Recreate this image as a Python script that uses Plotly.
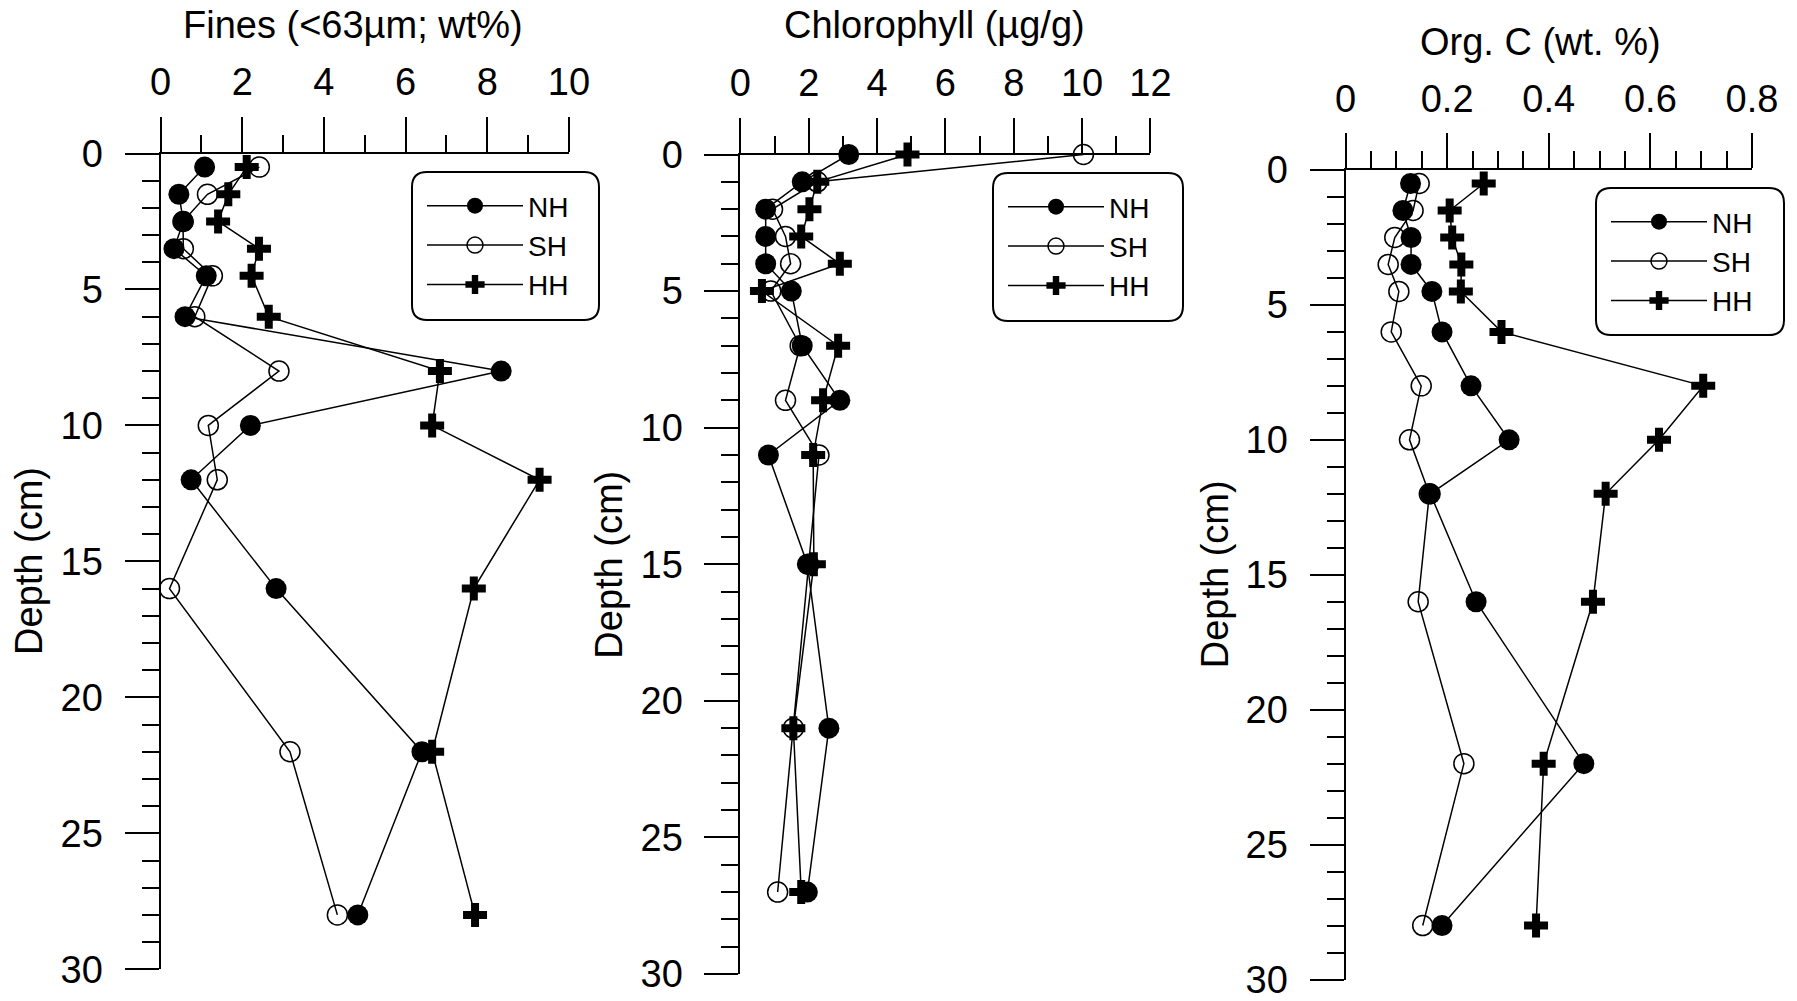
import plotly.graph_objects as go

W, H = 1797, 1001
FONT = "Arial, 'Liberation Sans', sans-serif"

# ---------------- data ----------------
fines_depth = [0.5, 1.5, 2.5, 3.5, 4.5, 6, 8, 10, 12, 16, 22, 28]
fines_NH = [1.08, 0.45, 0.56, 0.33, 1.12, 0.60, 8.34, 2.20, 0.75, 2.83, 6.40, 4.83]
fines_SH = [2.42, 1.15, 0.55, 0.56, 1.27, 0.84, 2.90, 1.17, 1.39, 0.22, 3.17, 4.33]
fines_HH = [2.11, 1.66, 1.41, 2.41, 2.23, 2.65, 6.84, 6.65, 9.28, 7.67, 6.65, 7.70]

chl_depth = [0, 1, 2, 3, 4, 5, 7, 9, 11, 15, 21, 27]
chl_NH = [3.17, 1.81, 0.74, 0.74, 0.74, 1.49, 1.81, 2.91, 0.82, 1.96, 2.59, 1.96]
chl_SH = [10.04, 2.25, 0.94, 1.32, 1.47, 0.89, 1.75, 1.32, 2.30, 2.00, 1.55, 1.09]
chl_HH = [4.89, 2.25, 2.02, 1.78, 2.91, 0.63, 2.86, 2.42, 2.13, 2.15, 1.55, 1.78]

orgc_depth = [0.5, 1.5, 2.5, 3.5, 4.5, 6, 8, 10, 12, 16, 22, 28]
orgc_NH = [0.128, 0.113, 0.129, 0.129, 0.170, 0.190, 0.247, 0.322, 0.167, 0.257, 0.469, 0.190]
orgc_SH = [0.145, 0.133, 0.097, 0.084, 0.105, 0.090, 0.149, 0.126, 0.165, 0.143, 0.233, 0.152]
orgc_HH = [0.272, 0.205, 0.210, 0.228, 0.227, 0.307, 0.704, 0.617, 0.512, 0.487, 0.390, 0.375]

series_names = ["NH", "SH", "HH"]
panel_titles = ["Fines (<63µm; wt%)", "Chlorophyll (µg/g)", "Org. C (wt. %)"]
depth_title = "Depth (cm)"

# ---------------- layout geometry (pixels) ----------------
# (x_left, x_right, y_top, y_bottom)
panels_px = [
    (160.5, 569.0, 153.5, 969.3),
    (740.4, 1150.4, 154.5, 974.0),
    (1345.5, 1752.0, 170.0, 979.5),
]
xranges = [[0, 10], [0, 12], [0, 0.8]]
xdticks = [2, 2, 0.2]
xminor = [1, 1, 0.05]
legend_boxes = [(412, 599, 172, 320), (993, 1183, 173, 321), (1596, 1784, 188, 335)]
title_pos = [(352.6, 25), (934.5, 25), (1540.4, 42)]
FS = 38


def px(x):
    return x / W


def py(y):
    return 1 - y / H


marker_styles = {
    "NH": dict(symbol="circle", size=21, color="black", line=dict(width=0)),
    "SH": dict(symbol="circle-open", size=20, color="black", line=dict(width=1.5, color="black")),
    "HH": dict(symbol="cross", size=20, color="black", line=dict(width=0)),
}

fig = go.Figure()

datasets = [
    (fines_depth, [fines_NH, fines_SH, fines_HH]),
    (chl_depth, [chl_NH, chl_SH, chl_HH]),
    (orgc_depth, [orgc_NH, orgc_SH, orgc_HH]),
]

for i, (depth, vals) in enumerate(datasets):
    k = "" if i == 0 else str(i + 1)
    leg = "legend" + k
    for name, v in zip(series_names, vals):
        fig.add_trace(go.Scatter(
            x=v, y=depth, mode="lines+markers", name=name,
            line=dict(color="black", width=1.5),
            marker=marker_styles[name],
            xaxis="x" + k, yaxis="y" + k, legend=leg,
            cliponaxis=False, showlegend=True,
        ))

layout = dict(
    template="none",
    width=W, height=H,
    margin=dict(l=0, r=0, t=0, b=0, autoexpand=False),
    paper_bgcolor="white", plot_bgcolor="white",
    font=dict(family=FONT, color="black", size=FS),
    showlegend=True,
)

shapes = []
annotations = []
for i, (xl, xr, yt, yb) in enumerate(panels_px):
    k = "" if i == 0 else str(i + 1)
    layout["xaxis" + k] = dict(
        domain=[px(xl), px(xr)], range=xranges[i], side="top", anchor="y" + k,
        automargin=False, ticklabeloverflow="allow",
        showline=True, linecolor="black", linewidth=2,
        ticks="outside", ticklen=35, tickwidth=2, tickcolor="black",
        tick0=0, dtick=xdticks[i],
        minor=dict(dtick=xminor[i], tick0=0, ticks="outside", ticklen=17, tickwidth=2,
                   tickcolor="black", showgrid=False),
        showgrid=False, zeroline=False,
        tickfont=dict(size=FS, color="black", family=FONT),
        ticklabelstandoff=6, fixedrange=True,
    )
    layout["yaxis" + k] = dict(
        domain=[py(yb), py(yt)], range=[30, 0], anchor="x" + k, side="left",
        automargin=False, ticklabeloverflow="allow",
        showline=True, linecolor="black", linewidth=2,
        ticks="outside", ticklen=34, tickwidth=2, tickcolor="black",
        tick0=0, dtick=5,
        minor=dict(dtick=1, tick0=0, ticks="outside", ticklen=17, tickwidth=2,
                   tickcolor="black", showgrid=False),
        showgrid=False, zeroline=False,
        tickfont=dict(size=FS, color="black", family=FONT),
        ticklabelstandoff=14, fixedrange=True,
    )
    # panel title
    tx, ty = title_pos[i]
    annotations.append(dict(
        text=panel_titles[i], x=px(tx), y=py(ty), xref="paper", yref="paper",
        xanchor="center", yanchor="middle", showarrow=False,
        font=dict(size=FS, color="black", family=FONT),
    ))
    # depth title
    annotations.append(dict(
        text=depth_title, x=px(xl - 131), y=py((yt + yb) / 2), xref="paper", yref="paper",
        xanchor="center", yanchor="middle", showarrow=False, textangle=-90,
        font=dict(size=FS, color="black", family=FONT),
    ))
    # legend box (rounded)
    bx0, bx1, by0, by1 = legend_boxes[i]
    r = 15

    def P(x, y):
        return f"{px(x):.5f},{py(y):.5f}"
    path = (f"M {P(bx0 + r, by0)} L {P(bx1 - r, by0)} Q {P(bx1, by0)} {P(bx1, by0 + r)} "
            f"L {P(bx1, by1 - r)} Q {P(bx1, by1)} {P(bx1 - r, by1)} "
            f"L {P(bx0 + r, by1)} Q {P(bx0, by1)} {P(bx0, by1 - r)} "
            f"L {P(bx0, by0 + r)} Q {P(bx0, by0)} {P(bx0 + r, by0)} Z")
    shapes.append(dict(type="path", path=path, xref="paper", yref="paper",
                       line=dict(color="black", width=2), fillcolor="rgba(0,0,0,0)", layer="above"))
    layout["legend" + k] = dict(
        x=px(bx0 + 10), y=py(by0 + 9), xref="paper", yref="paper",
        xanchor="left", yanchor="top",
        bgcolor="rgba(0,0,0,0)", borderwidth=0,
        font=dict(size=28, color="black", family=FONT),
        itemwidth=96, tracegroupgap=0, traceorder="normal",
    )

layout["shapes"] = shapes
layout["annotations"] = annotations
fig.update_layout(**layout)

fig.write_html("out.html", config={"displayModeBar": False})
